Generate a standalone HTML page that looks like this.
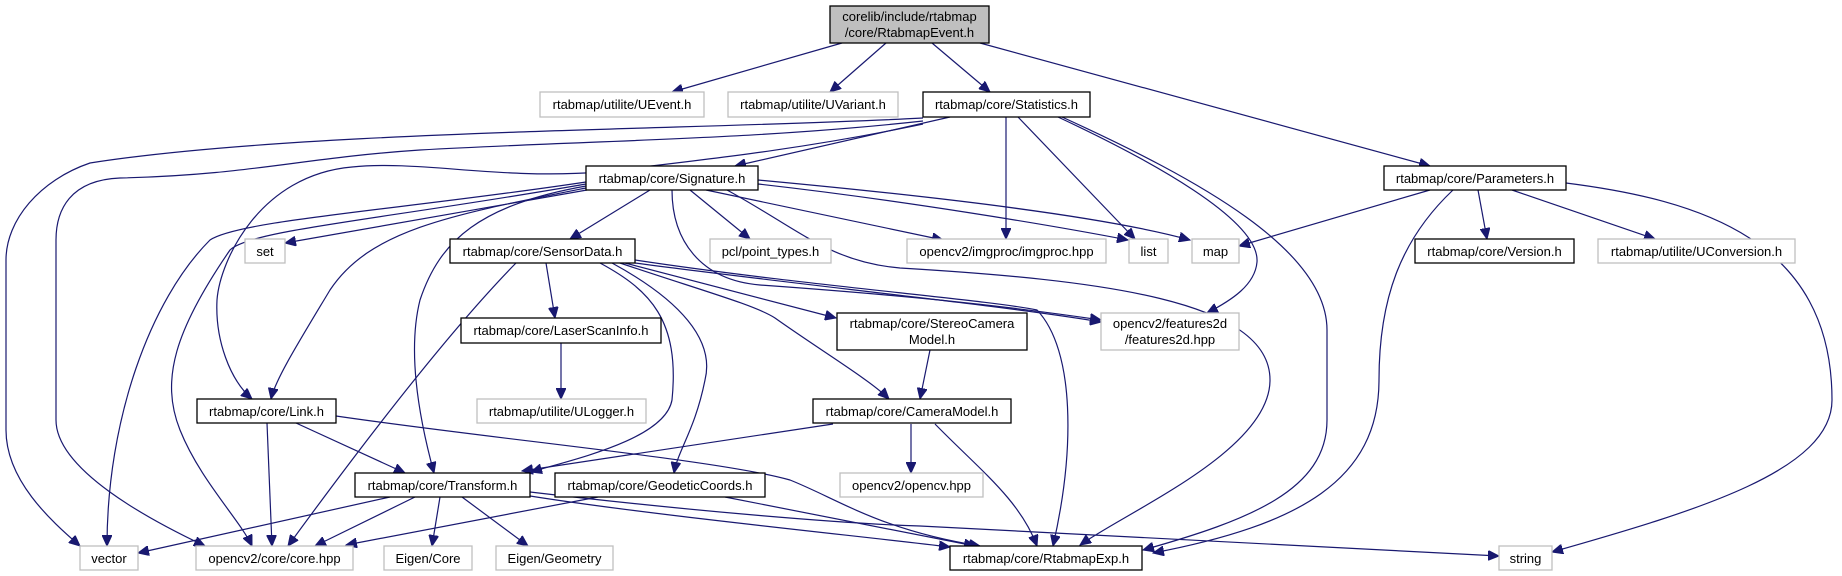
<!DOCTYPE html>
<html><head><meta charset="utf-8"><style>
html,body{margin:0;padding:0;background:#fff;}
svg{display:block;}
text{font-family:"Liberation Sans",Helvetica,Arial,sans-serif;font-size:13px;fill:#000;}
.e{fill:none;stroke:#191970;stroke-width:1.2;}
.b{fill:#fff;stroke:#000;stroke-width:1.3;}
.g{fill:#fff;stroke:#bfbfbf;stroke-width:1.3;}
</style></head><body>
<svg width="1842" height="576" viewBox="0 0 1842 576" xmlns="http://www.w3.org/2000/svg">
<defs>
<marker id="a" markerUnits="userSpaceOnUse" markerWidth="12" markerHeight="10" refX="11" refY="5" orient="auto">
<path d="M0,0 L11,5 L0,10 z" fill="#191970" stroke="#191970"/>
</marker>
</defs>
<g marker-end="url(#a)">
<!-- root -->
<path class="e" d="M842,43 L672,92"/>
<path class="e" d="M886,43 L830,92"/>
<path class="e" d="M932,43 L990,92"/>
<path class="e" d="M980,43 L1430,166"/>
<!-- Statistics -->
<path class="e" d="M950,117 L735,166"/>
<path class="e" d="M1006,117 L1006,239"/>
<path class="e" d="M1018,117 L1135,239"/>
<path class="e" d="M1058,117 C1150,160 1260,220 1257,262 C1255,285 1232,300 1207,313"/>
<path class="e" d="M1062,117 C1200,180 1327,250 1327,330 L1327,420 C1327,490 1250,520 1143,550"/>
<path class="e" d="M923,118 C700,130 300,130 90,163 C40,180 6,220 6,260 L6,430 C6,480 50,520 80,546"/>
<path class="e" d="M923,121 C750,140 600,140 420,150 C300,158 250,175 120,178 C70,180 56,210 56,240 L56,420 C56,470 150,520 205,546"/>
<path class="e" d="M923,124 C800,150 700,160 600,172 C500,180 420,160 352,167 C260,175 220,260 217,300 C215,340 230,380 252,399"/>
<!-- Signature -->
<path class="e" d="M587,190 L285,243"/>
<path class="e" d="M650,190 L570,239"/>
<path class="e" d="M690,190 L750,239"/>
<path class="e" d="M706,190 L943,240"/>
<path class="e" d="M758,184 C900,200 1050,225 1128,240"/>
<path class="e" d="M758,180 C920,195 1100,215 1190,240"/>
<path class="e" d="M672,190 C672,240 700,280 760,285 C900,295 1000,305 1101,320"/>
<path class="e" d="M727,190 C800,230 830,262 900,268 C1100,280 1270,300 1270,380 C1270,450 1130,510 1080,545"/>
<path class="e" d="M586,186 C480,205 440,240 420,300 C405,360 425,440 434,473"/>
<path class="e" d="M586,188 C450,215 370,230 330,290 C300,340 275,380 271,399"/>
<path class="e" d="M586,182 C400,210 240,220 210,240 C150,300 107,420 107,546"/>
<path class="e" d="M586,184 C380,220 250,230 230,250 C175,330 160,380 180,430 C200,480 240,520 252,546"/>
<!-- SensorData -->
<path class="e" d="M516,263 C460,320 380,420 288,546"/>
<path class="e" d="M546,263 L555,318"/>
<path class="e" d="M600,263 C650,290 680,320 672,400 C665,440 570,460 531,472"/>
<path class="e" d="M612,263 C680,300 715,340 705,380 C695,430 678,450 674,473"/>
<path class="e" d="M620,263 C700,290 755,305 775,318 C820,350 870,380 889,399"/>
<path class="e" d="M625,263 L836,318"/>
<path class="e" d="M635,263 C800,285 1000,305 1101,322"/>
<path class="e" d="M635,260 C800,285 990,300 1037,310 C1075,350 1075,450 1053,546"/>
<!-- Stereo / CameraModel -->
<path class="e" d="M930,350 L920,399"/>
<path class="e" d="M833,424 L522,471"/>
<path class="e" d="M911,424 L911,473"/>
<path class="e" d="M935,424 C980,470 1020,500 1037,546"/>
<!-- LaserScan -->
<path class="e" d="M561,343 L561,399"/>
<!-- Link -->
<path class="e" d="M267,423 L272,546"/>
<path class="e" d="M296,423 L405,473"/>
<path class="e" d="M336,416 C500,440 720,460 790,480 C840,500 880,530 980,546"/>
<!-- Transform -->
<path class="e" d="M390,497 L138,553"/>
<path class="e" d="M415,497 L315,546"/>
<path class="e" d="M440,497 L432,546"/>
<path class="e" d="M462,497 L528,546"/>
<path class="e" d="M530,496 C650,515 850,535 950,547"/>
<path class="e" d="M530,492 C700,512 850,524 920,526 L1499,556"/>
<!-- Geodetic -->
<path class="e" d="M598,497 L346,545"/>
<path class="e" d="M725,497 L975,546"/>
<!-- Parameters -->
<path class="e" d="M1430,190 L1239,246"/>
<path class="e" d="M1453,190 C1400,240 1379,300 1379,380 C1379,480 1300,525 1153,553"/>
<path class="e" d="M1478,190 L1487,239"/>
<path class="e" d="M1512,190 L1655,239"/>
<path class="e" d="M1566,183 C1700,200 1832,240 1832,400 C1832,470 1700,510 1552,552"/>
</g>
<!-- nodes -->
<rect x="830" y="6" width="159" height="37" fill="#bfbfbf" stroke="#000" stroke-width="1.3"/>
<text x="909.5" y="21" text-anchor="middle">corelib/include/rtabmap</text>
<text x="909.5" y="37" text-anchor="middle">/core/RtabmapEvent.h</text>

<rect class="g" x="540" y="92" width="164" height="25"/><text x="622" y="109" text-anchor="middle">rtabmap/utilite/UEvent.h</text>
<rect class="g" x="728" y="92" width="170" height="25"/><text x="813" y="109" text-anchor="middle">rtabmap/utilite/UVariant.h</text>
<rect class="b" x="923" y="92" width="167" height="25"/><text x="1006.5" y="109" text-anchor="middle">rtabmap/core/Statistics.h</text>

<rect class="b" x="586" y="166" width="172" height="24"/><text x="672" y="183" text-anchor="middle">rtabmap/core/Signature.h</text>
<rect class="b" x="1384" y="166" width="182" height="24"/><text x="1475" y="183" text-anchor="middle">rtabmap/core/Parameters.h</text>

<rect class="g" x="245" y="239" width="40" height="24"/><text x="265" y="256" text-anchor="middle">set</text>
<rect class="b" x="450" y="239" width="185" height="24"/><text x="542.5" y="256" text-anchor="middle">rtabmap/core/SensorData.h</text>
<rect class="g" x="710" y="239" width="121" height="24"/><text x="770.5" y="256" text-anchor="middle">pcl/point_types.h</text>
<rect class="g" x="907" y="239" width="199" height="24"/><text x="1006.5" y="256" text-anchor="middle">opencv2/imgproc/imgproc.hpp</text>
<rect class="g" x="1129" y="239" width="39" height="24"/><text x="1148.5" y="256" text-anchor="middle">list</text>
<rect class="g" x="1192" y="239" width="47" height="24"/><text x="1215.5" y="256" text-anchor="middle">map</text>
<rect class="b" x="1415" y="239" width="159" height="24"/><text x="1494.5" y="256" text-anchor="middle">rtabmap/core/Version.h</text>
<rect class="g" x="1598" y="239" width="197" height="24"/><text x="1696.5" y="256" text-anchor="middle">rtabmap/utilite/UConversion.h</text>

<rect class="b" x="461" y="318" width="200" height="25"/><text x="561" y="335" text-anchor="middle">rtabmap/core/LaserScanInfo.h</text>
<rect class="b" x="837" y="313" width="190" height="37"/>
<text x="932" y="328" text-anchor="middle">rtabmap/core/StereoCamera</text>
<text x="932" y="344" text-anchor="middle">Model.h</text>
<rect class="g" x="1101" y="313" width="138" height="37"/>
<text x="1170" y="328" text-anchor="middle">opencv2/features2d</text>
<text x="1170" y="344" text-anchor="middle">/features2d.hpp</text>

<rect class="b" x="197" y="399" width="139" height="24"/><text x="266.5" y="416" text-anchor="middle">rtabmap/core/Link.h</text>
<rect class="g" x="477" y="399" width="169" height="24"/><text x="561.5" y="416" text-anchor="middle">rtabmap/utilite/ULogger.h</text>
<rect class="b" x="813" y="399" width="198" height="24"/><text x="912" y="416" text-anchor="middle">rtabmap/core/CameraModel.h</text>

<rect class="b" x="355" y="473" width="175" height="24"/><text x="442.5" y="490" text-anchor="middle">rtabmap/core/Transform.h</text>
<rect class="b" x="555" y="473" width="210" height="24"/><text x="660" y="490" text-anchor="middle">rtabmap/core/GeodeticCoords.h</text>
<rect class="g" x="840" y="473" width="143" height="24"/><text x="911.5" y="490" text-anchor="middle">opencv2/opencv.hpp</text>

<rect class="g" x="80" y="546" width="58" height="24"/><text x="109" y="563" text-anchor="middle">vector</text>
<rect class="g" x="196" y="546" width="157" height="24"/><text x="274.5" y="563" text-anchor="middle">opencv2/core/core.hpp</text>
<rect class="g" x="384" y="546" width="88" height="24"/><text x="428" y="563" text-anchor="middle">Eigen/Core</text>
<rect class="g" x="496" y="546" width="117" height="24"/><text x="554.5" y="563" text-anchor="middle">Eigen/Geometry</text>
<rect class="b" x="950" y="546" width="192" height="24"/><text x="1046" y="563" text-anchor="middle">rtabmap/core/RtabmapExp.h</text>
<rect class="g" x="1499" y="546" width="53" height="24"/><text x="1525.5" y="563" text-anchor="middle">string</text>
</svg>
</body></html>
